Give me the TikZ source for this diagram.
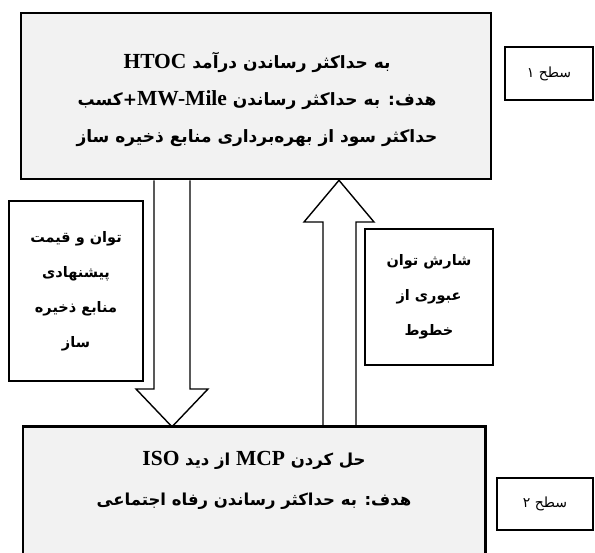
\documentclass[tikz,border=0pt]{standalone}
\usepackage{fontspec}
\TeXXeTstate=1
\newfontfamily\fafont[Script=Arabic]{DejaVu Sans}
\newfontfamily\latfont{Liberation Serif}
\newcommand{\faline}[1]{\beginR #1\endR}
\newcommand{\latw}[1]{\beginL{\latfont\bfseries\fontsize{21.5}{20}\selectfont #1}\endL{}}
\begin{document}
\begin{tikzpicture}[x=1pt,y=-1pt,
  mainbox/.style={draw=black, line width=2.6pt, fill=boxgray, inner sep=0pt},
  maintext/.style={align=center, inner sep=0pt, font=\fafont\bfseries\fontsize{17}{37}\selectfont},
  labelbox/.style={draw=black, line width=1.7pt, fill=white, inner sep=0pt, align=center,
    font=\fafont\bfseries\fontsize{14.5}{35}\selectfont},
  levelbox/.style={draw=black, line width=1.7pt, fill=white, inner sep=0pt,
    font=\fafont\fontsize{14}{16}\selectfont},
  blockarrow/.style={draw=black, line width=1.4pt, line join=miter}
]
\definecolor{boxgray}{HTML}{F2F2F2}
\useasboundingbox (0,0) rectangle (595,553);

% top box
\node[mainbox, minimum width=470pt, minimum height=166pt] (topbox) at (256,96) {};
\node[maintext] (toptext) at (257,99)
  {\faline{به حداکثر رساندن درآمد \latw{HTOC}}\\
   \faline{هدف: به حداکثر رساندن \latw{MW-Mile}+کسب}\\
   \faline{حداکثر سود از بهره‌برداری منابع ذخیره ساز}};

% level 1
\node[levelbox, minimum width=88pt, minimum height=53pt] (lev1) at (549,73.5)
  {\faline{سطح ۱}};

% bottom box (open at the lower edge of the picture)
\node[fill=boxgray, draw=none, inner sep=0pt, minimum width=462pt, minimum height=126pt] (isobox) at (254,490) {};
\draw[line width=2.6pt, line join=miter] (isobox.south west) -- (isobox.north west) -- (isobox.north east) -- (isobox.south east);
\node[maintext, font=\fafont\bfseries\fontsize{16.5}{40}\selectfont] (isotext) at (254,480)
  {\faline{حل کردن \latw{MCP} از دید \latw{ISO}}\\
   \faline{هدف: به حداکثر رساندن رفاه اجتماعی}};

% level 2
\node[levelbox, minimum width=96pt, minimum height=52pt] (lev2) at (545,504)
  {\faline{سطح ۲}};

% labels
\node[labelbox, minimum width=134pt, minimum height=180pt] (leftlab) at (76,291)
  {\faline{توان و قیمت}\\ \faline{پیشنهادی}\\ \faline{منابع ذخیره}\\ \faline{ساز}};
\node[labelbox, minimum width=128pt, minimum height=136pt] (rightlab) at (429,297)
  {\faline{شارش توان}\\ \faline{عبوری از}\\ \faline{خطوط}};

% down block arrow
\draw[blockarrow] (154,0 |- topbox.south) -- (154,389) -- (136,389) -- (172,0 |- isobox.north)
  -- (208,389) -- (190,389) -- (190,0 |- topbox.south);
% up block arrow
\draw[blockarrow] (323,0 |- isobox.north) -- (323,222) -- (304,222) -- (339,0 |- topbox.south)
  -- (374,222) -- (356,222) -- (356,0 |- isobox.north);
\end{tikzpicture}
\end{document}
